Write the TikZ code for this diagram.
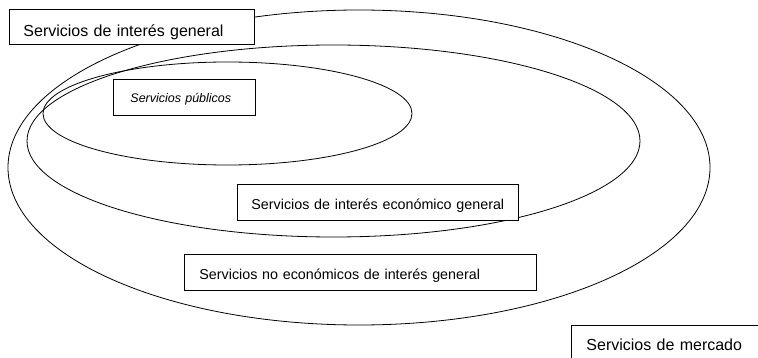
\documentclass[tikz,border=0pt]{standalone}
\usepackage{fontspec}
\setmainfont{Liberation Sans}
\tikzset{srvbox/.style={draw, fill=white, line width=0.9pt, anchor=north west, inner xsep=15pt, inner ysep=0pt, text height=25pt, text depth=11pt, align=left, font=\fontsize{14.3}{17}\selectfont},
  ring/.style={line width=0.8pt}}
\begin{document}
\begin{tikzpicture}[x=1pt,y=-1pt]
     \useasboundingbox (0,0) rectangle (758,358);
     \clip (0,0) rectangle (758,358);
        % nested sets
        \draw[ring] (359,167.5) ellipse [x radius=351pt, y radius=157.5pt];
        \draw[ring] (333.5,141) ellipse [x radius=306.5pt, y radius=96pt];
        \draw[ring] (227.5,113.5) ellipse [x radius=184.5pt, y radius=51.5pt];
        % labels
        \node[srvbox, inner xsep=14pt, text width=217pt, text height=27pt, text depth=8pt, font=\fontsize{16}{19}\selectfont] (general) at (9,9) {Servicios de interés general};
        \node[srvbox, inner xsep=17pt, text width=108pt, text height=23pt, text depth=13pt, font=\fontsize{12.5}{15}\selectfont\itshape] (publicos) at (113,79) {Servicios públicos};
        \node[srvbox, inner xsep=14pt, text width=253pt] (economico) at (237,184) {Servicios de interés económico general};
        \node[srvbox, text width=322pt] (noeconomico) at (184,254) {Servicios no económicos de interés general};
        \node[srvbox, text width=200pt, font=\fontsize{16}{19}\selectfont] (mercado) at (571,325) {Servicios de mercado};
    \end{tikzpicture}
\end{document}
